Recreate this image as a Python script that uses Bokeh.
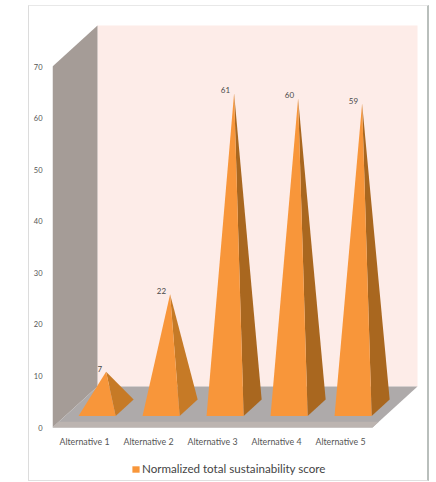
from bokeh.embed import file_html
from bokeh.resources import INLINE
from bokeh.plotting import figure
from bokeh.models import Range1d, FixedTicker, Legend, LegendItem
from bokeh.core.properties import value

categories = ["Alternative 1", "Alternative 2", "Alternative 3", "Alternative 4", "Alternative 5"]
scores = [7, 22, 61, 60, 59]
y_ticks = [0, 10, 20, 30, 40, 50, 60, 70]
series_name = "Normalized total sustainability score"

# Oblique projection of the 3D box: depth 0..1 shifts a point right and up
DEPTH_X = 45 / 64
DEPTH_Y = 7.95
FLOOR_END = len(categories)
WALL_TOP = 70
BASE_HALF = 0.29
BASE_FRONT = 0.28
BASE_BACK = 0.68
APEX_DEPTH = 0.48

# The frame runs below the zero line so the legend can live inside it
UNITS_PER_PX = 1 / 5.157
FRAME_BELOW_ZERO = 53
FRAME_ABOVE_ZERO = 421


def project(x, y, d):
    return x + d * DEPTH_X, y + d * DEPTH_Y


def poly(points):
    pts = [project(*pt) for pt in points]
    return [q[0] for q in pts], [q[1] for q in pts]


p = figure(
    frame_width=375, frame_height=FRAME_ABOVE_ZERO + FRAME_BELOW_ZERO,
    x_range=Range1d(0, 375 / 64),
    y_range=Range1d(-FRAME_BELOW_ZERO * UNITS_PER_PX, FRAME_ABOVE_ZERO * UNITS_PER_PX),
    output_backend="svg", toolbar_location=None,
    min_border_left=23, min_border_right=0, min_border_top=0, min_border_bottom=0,
    margin=(5, 0, 0, 28),
    background_fill_color="white", border_fill_color="white",
    outline_line_color=None,
    x_axis_location="below", y_axis_location="left",
)
p.styles = {
    "border-top": "1px solid #e8e8e8",
    "border-left": "1px solid #dcdcdc",
    "border-right": "2px solid #b9bfbc",
    "border-bottom": "1px solid #e0e0e0",
}
p.grid.visible = False

# Walls and floor of the box
bx, by = poly([(0, WALL_TOP, 1), (FLOOR_END, WALL_TOP, 1), (FLOOR_END, 0, 1), (0, 0, 1)])
p.patch(bx, by, fill_color="#fdecE8", line_color=None)
lx, ly = poly([(0, 0, 0), (0, WALL_TOP, 0), (0, WALL_TOP, 1), (0, 0, 1)])
p.patch(lx, ly, fill_color="#a59c97", line_color=None)
fx, fy = poly([(0, 0, 0), (FLOOR_END, 0, 0), (FLOOR_END, 0, 1), (0, 0, 1)])
p.patch(fx, fy, fill_color="#aeaaaa", line_color=None)
ex, ey = poly([(0, 0, 0), (FLOOR_END, 0, 0), (FLOOR_END, 0, 0.14), (0, 0, 0.14)])
p.patch(ex, ey, fill_color="#bcb4b0", line_color=None)

front_renderer = None
for i, score in enumerate(scores):
    c = i + 0.5
    apex = (c, score, APEX_DEPTH)
    fl = (c - BASE_HALF, 0, BASE_FRONT)
    fr = (c + BASE_HALF, 0, BASE_FRONT)
    br = (c + BASE_HALF, 0, BASE_BACK)
    sx, sy = poly([fr, br, apex])
    p.patch(sx, sy, fill_color="#c67a26" if score < 30 else "#a9671f", line_color=None)
    tx, ty = poly([fl, fr, apex])
    r = p.patch(tx, ty, fill_color="#f8963a", line_color=None)
    front_renderer = front_renderer or r
    ax, ay = project(*apex)
    p.text([ax], [ay], text=[str(score)], text_align="right", text_baseline="middle",
           x_offset=-4, y_offset=-3, text_font=value("Lato"), text_font_size="8px",
           text_color="#4a4a4a")

p.xaxis.ticker = FixedTicker(ticks=[i + 0.5 for i in range(len(categories))])
p.xaxis.major_label_overrides = {i + 0.5: name for i, name in enumerate(categories)}
p.yaxis.ticker = FixedTicker(ticks=y_ticks)
for axis in (p.xaxis, p.yaxis):
    axis.axis_line_color = None
    axis.major_tick_line_color = None
    axis.minor_tick_line_color = None
    axis.major_label_text_font = "Lato"
    axis.major_label_text_color = "#555555"
p.xaxis.major_label_text_font_size = "8.8px"
p.yaxis.major_label_text_font_size = "7.5px"
# Category labels are pulled up from the frame's lower edge to sit just under the floor
p.xaxis.major_label_standoff = -51
p.yaxis.major_label_standoff = 4

legend = Legend(
    items=[LegendItem(label=series_name, renderers=[front_renderer])],
    location=(79, 5), orientation="horizontal",
    border_line_color=None, background_fill_color="white", background_fill_alpha=0,
    label_text_font="Lato", label_text_font_size="11.6px", label_text_color="#444444",
    glyph_width=9, glyph_height=8, padding=2, margin=0, label_standoff=2,
)
p.add_layout(legend, "center")

open("out.html", "w").write(file_html(p, INLINE))
